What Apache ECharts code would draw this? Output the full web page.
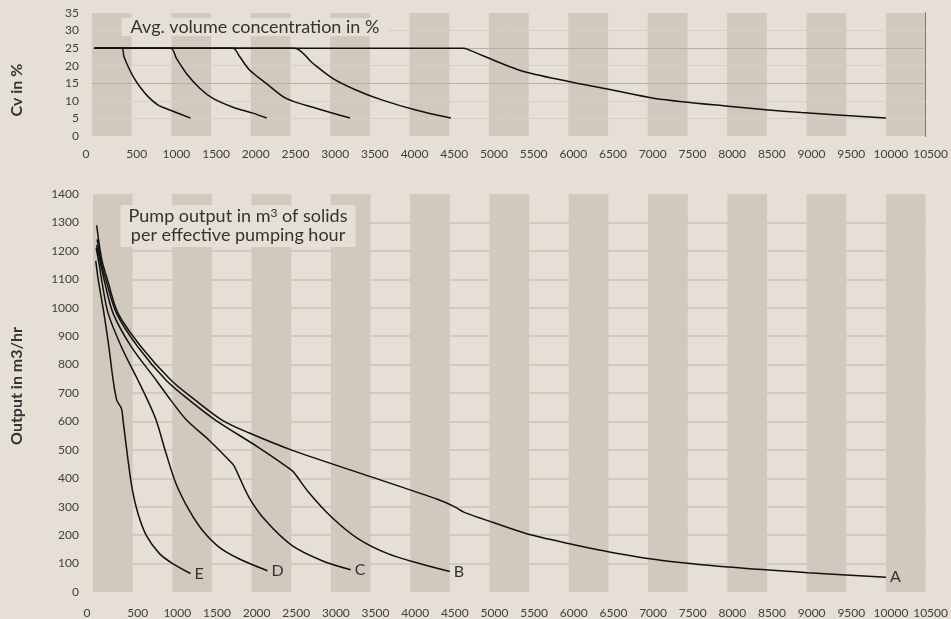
<!DOCTYPE html>
<html>
<head>
<meta charset="utf-8">
<script src="https://cdn.jsdelivr.net/npm/echarts@6/dist/echarts.min.js"></script>
<style>
  html, body { margin: 0; background: #e5dfd6; }
  #main { width: 951px; height: 619px; }
</style>
</head>
<body>
<div id="main"></div>
<script>
// shaded distance bands (start of each 500 m band)
const bandStarts = [0, 1000, 2000, 3000, 4000, 5000, 6000, 7000, 8000, 9000, 10000];
const bandWidth = 500;
const curveNames = ["A", "B", "C", "D", "E"];

// Cv in % vs distance
const cvA = [[30, 25], [4685, 25], [4748, 24.5], [5376, 18.8], [6004, 15.5], [6506, 13.3], [7093, 10.7], [8013, 8.5], [8935, 6.7], [10000, 5.1]];
const cvB = [[30, 25], [2550, 25], [2780, 20.7], [3031, 16.4], [3324, 13.1], [3659, 10.2], [4078, 7.4], [4520, 5.1]];
const cvC = [[30, 25], [1775, 25], [1859, 22.6], [1985, 18.8], [2194, 15], [2445, 10.7], [2822, 7.9], [3250, 5.1]];
const cvD = [[30, 25], [992, 25], [1063, 22.1], [1189, 17.8], [1357, 13.6], [1524, 10.7], [1775, 8.2], [2026, 6.5], [2200, 5.1]];
const cvE = [[30, 25], [373, 25], [402, 22.6], [456, 19.7], [519, 16.9], [603, 14], [707, 11.2], [833, 8.8], [980, 7.4], [1240, 5.1]];

// output in m3/hr vs distance
const outA = [[46, 1290], [110, 1170], [184, 1097], [317, 980], [609, 862], [985, 745], [1290, 675], [1632, 604], [1965, 560], [2507, 499], [3508, 405], [4343, 326], [4551, 301], [4676, 281], [4843, 264], [5094, 240], [5469, 205], [6011, 170], [6512, 141], [7180, 111], [8014, 88], [9015, 68], [10000, 52]];
const outB = [[52, 1240], [110, 1150], [163, 1097], [297, 980], [567, 862], [922, 745], [1214, 675], [1548, 604], [2090, 508], [2507, 428], [2549, 415], [2716, 352], [3007, 264], [3341, 188], [3717, 135], [4092, 102], [4500, 72]];
const outC = [[45, 1220], [100, 1150], [141, 1097], [254, 980], [484, 862], [797, 745], [980, 675], [1183, 604], [1464, 534], [1756, 452], [1786, 440], [1965, 334], [2174, 252], [2507, 164], [2882, 111], [3250, 78]];
const outD = [[40, 1210], [80, 1150], [109, 1097], [191, 980], [359, 862], [567, 745], [688, 675], [797, 604], [922, 487], [1047, 381], [1214, 287], [1380, 217], [1589, 158], [1840, 117], [2200, 75]];
const outE = [[35, 1165], [67, 1097], [138, 980], [200, 862], [254, 745], [300, 675], [359, 645], [379, 604], [442, 463], [497, 358], [567, 276], [672, 199], [838, 135], [1005, 100], [1230, 65]];

const cvSeries = [cvA, cvB, cvC, cvD, cvE];
const outSeries = [outA, outB, outC, outD, outE];

const FONT = "Lato";
const BG = "#e5dfd6";
const BAND = "#d1c8be";
const GL = "#d7cfc5"; // light grid
const GD = "#b9afa3"; // dark grid
const GB = "#d3cabf"; // lower chart grid

const chart = echarts.init(document.getElementById("main"));

const xLabel = {
  fontFamily: FONT,
  fontSize: 12,
  color: "#404040",
  formatter: (v) => (v === 0 ? "{z|0}" : "{n|" + v + "}"),
  rich: {
    z: { padding: [0, 12, 0, 0], fontFamily: FONT, fontSize: 12, color: "#404040" },
    n: { padding: [0, 0, 0, 10], fontFamily: FONT, fontSize: 12, color: "#404040" },
  },
};
const yLabel = (margin) => ({
  margin, fontFamily: FONT, fontSize: 12, color: "#404040", formatter: (v) => String(v),
});

const bandSeries = (xi, yi) => ({
  type: "line",
  xAxisIndex: xi,
  yAxisIndex: yi,
  data: [],
  z: 1,
  silent: true,
  markArea: {
    silent: true,
    itemStyle: { color: BAND },
    data: bandStarts.map((s) => [{ xAxis: s }, { xAxis: s + bandWidth }]),
  },
});

const lineStyle = { color: "#111", width: 1.5 };
const bottomGrid = ["transparent"];
for (let i = 1; i < 14; i++) bottomGrid.push(GB);
bottomGrid.push("transparent");

chart.setOption({
  animation: false,
  backgroundColor: BG,
  textStyle: { fontFamily: FONT },
  grid: [
    { left: 92, right: 23, top: 13, height: 123 },
    { left: 93, right: 19, top: 194, height: 398 },
  ],
  xAxis: [
    {
      gridIndex: 0, type: "value", min: 0, max: 10500, interval: 500,
      axisLine: { show: false }, axisTick: { show: false }, splitLine: { show: false },
      axisLabel: Object.assign({ margin: 12 }, xLabel),
    },
    {
      gridIndex: 1, type: "value", min: 0, max: 10500, interval: 500,
      axisLine: { show: false }, axisTick: { show: false }, splitLine: { show: false },
      axisLabel: Object.assign({ margin: 15 }, xLabel),
    },
  ],
  yAxis: [
    {
      gridIndex: 0, type: "value", min: 0, max: 35, interval: 5, z: 3,
      axisLine: { show: false }, axisTick: { show: false },
      axisLabel: yLabel(13),
      splitLine: { lineStyle: { width: 1, color: ["transparent", GL, GL, GD, GL, GD, GL, "transparent"] } },
    },
    {
      gridIndex: 0, type: "value", min: 0, max: 35, interval: 5, position: "right",
      axisLine: { show: true, lineStyle: { color: "#000", width: 1 } },
      axisTick: { show: false }, axisLabel: { show: false }, splitLine: { show: false },
    },
    {
      gridIndex: 1, type: "value", min: 0, max: 1400, interval: 100,
      axisLine: { show: false }, axisTick: { show: false },
      axisLabel: yLabel(14),
      splitLine: { lineStyle: { width: 2, color: bottomGrid } },
    },
  ],
  graphic: [
    {
      type: "text", x: 17, y: 90, rotation: Math.PI / 2,
      style: { text: "Cv in %", font: "bold 16px " + FONT, fill: "#333", align: "center", verticalAlign: "middle" },
    },
    {
      type: "text", x: 17, y: 386, rotation: Math.PI / 2,
      style: { text: "Output in m3/hr", font: "bold 16px " + FONT, fill: "#333", align: "center", verticalAlign: "middle" },
    },
    {
      type: "text", x: 255, y: 18, z: 10,
      style: {
        text: "Avg. volume concentration in %", font: "18px " + FONT, fill: "#333",
        align: "center", verticalAlign: "top", backgroundColor: BG, padding: [0, 9, 0, 9],
      },
    },
    {
      type: "text", x: 238, y: 205, z: 10,
      style: {
        text: "{t|Pump output in m}{s|3}{t| of solids}\n{t|per effective pumping hour}",
        fill: "#333", align: "center", verticalAlign: "top", backgroundColor: BG, padding: [2, 8, 2, 8],
        rich: {
          t: { fontFamily: FONT, fontSize: 18, lineHeight: 19, fill: "#333" },
          s: { fontFamily: FONT, fontSize: 12, lineHeight: 12, verticalAlign: "top", fill: "#333" },
        },
      },
    },
  ],
  series: [
    bandSeries(0, 0),
    bandSeries(1, 2),
    ...cvSeries.map((d, i) => ({
      name: "cv" + curveNames[i],
      type: "line", xAxisIndex: 0, yAxisIndex: 0, data: d,
      showSymbol: false, silent: true, z: 5, lineStyle, smooth: 0.3,
    })),
    ...outSeries.map((d, i) => ({
      name: curveNames[i],
      type: "line", xAxisIndex: 1, yAxisIndex: 2, data: d,
      showSymbol: false, silent: true, z: 5, lineStyle, smooth: 0.3,
      endLabel: { show: true, formatter: curveNames[i], fontFamily: FONT, fontSize: 16, color: "#333", distance: 4 },
    })),
  ],
});
</script>
</body>
</html>
